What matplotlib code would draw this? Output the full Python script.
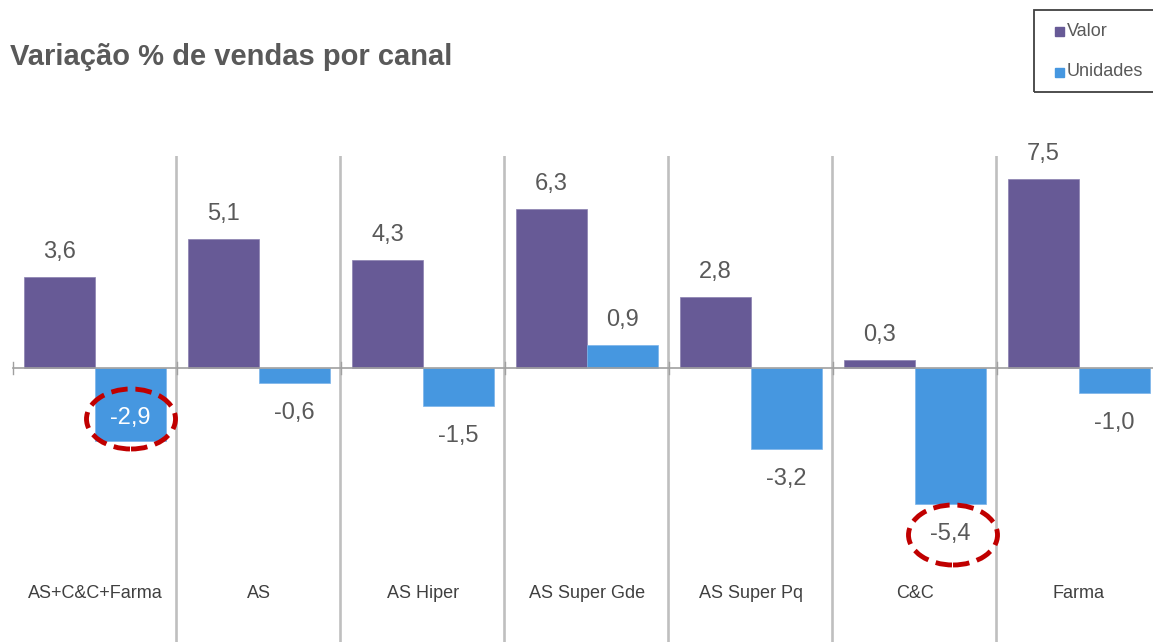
import matplotlib
matplotlib.use("Agg")
import matplotlib.pyplot as plt
from matplotlib.patches import Ellipse, Rectangle
import numpy as np

plt.rcParams['font.family'] = ['Liberation Sans', 'DejaVu Sans']

categories = ["AS+C&C+Farma", "AS", "AS Hiper", "AS Super Gde", "AS Super Pq", "C&C", "Farma"]
valor = [3.6, 5.1, 4.3, 6.3, 2.8, 0.3, 7.5]
unidades = [-2.9, -0.6, -1.5, 0.9, -3.2, -5.4, -1.0]
series_names = ["Valor", "Unidades"]

C_VALOR = "#675A96"
C_UNID = "#4697E0"
TXT = "#595959"

W, H = 1153, 642
fig = plt.figure(figsize=(W / 100, H / 100), dpi=100)
ax = fig.add_axes([13 / W, 0, 1148 / W, (642 - 156) / H])
ppu = 25.2
ax.set_xlim(-0.5, 6.5)
ax.set_ylim(-(642 - 368) / ppu, (368 - 156) / ppu)
ax.axis('off')

x = np.arange(len(categories))
bw = 71 / 164
ax.bar(x - bw / 2, valor, bw, color=C_VALOR, edgecolor="#8a80b0", linewidth=0.5, zorder=3)
ax.bar(x + bw / 2, unidades, bw, color=C_UNID, edgecolor="#7ab4ea", linewidth=0.5, zorder=3)

# separators
for i in range(len(categories) - 1):
    ax.axvline(i + 0.5 - 1.5 / 164, color="#BFBFBF", lw=1.9, zorder=1)

# zero line with ticks
ax.plot([-0.5, 6.6], [0, 0], color="#A0A0A0", lw=1.2, zorder=4, clip_on=False)
for k in range(len(categories) + 1):
    ax.plot([-0.5 + k, -0.5 + k], [-0.22, 0.22], color="#A0A0A0", lw=1.0, zorder=4, clip_on=False)

def fmt(v):
    return f"{v:.1f}".replace(".", ",")

for i, (v, u) in enumerate(zip(valor, unidades)):
    for xv, val, name in [(i - bw / 2, v, "Valor"), (i + bw / 2, u, "Unidades")]:
        if (i, name) == (0, "Unidades"):
            ax.annotate(fmt(val), (xv, val), xytext=(0, 23 * 0.72), textcoords='offset points',
                        ha='center', va='center', fontsize=17, color='white', zorder=6)
        elif val >= 0:
            ax.annotate(fmt(val), (xv, val), xytext=(0, 25 * 0.72), textcoords='offset points',
                        ha='center', va='center', fontsize=17, color=TXT, zorder=6)
        else:
            ax.annotate(fmt(val), (xv, val), xytext=(0, -30 * 0.72), textcoords='offset points',
                        ha='center', va='center', fontsize=17, color=TXT, zorder=6)

for i, c in enumerate(categories):
    ax.text(i, (368 - 593) / ppu, c, ha='center', va='center', fontsize=13, color="#404040")

# highlight ellipses
for (cx, cy) in [(131, 419), (953, 535)]:
    e = Ellipse(((cx - 13) / 164 - 0.5, (368 - cy) / ppu), 89 / 164, 60 / ppu,
                fill=False, edgecolor="#C00000", lw=3.5, linestyle=(0, (3.4, 1.6)),
                zorder=7, clip_on=False)
    ax.add_patch(e)

# title
fig.text(10 / W, 1 - 57 / H, "Variação % de vendas por canal", fontsize=21, fontweight='bold',
         color=TXT, ha='left', va='center')

# legend box
fig.patches.append(Rectangle((1034 / W, 1 - 92 / H), 130 / W, 82 / H, transform=fig.transFigure,
                             fill=False, edgecolor="#404040", lw=1.3))
for name, col, yy in [("Valor", C_VALOR, 31), ("Unidades", C_UNID, 72)]:
    fig.patches.append(Rectangle((1055 / W, 1 - (yy + 4.5) / H), 9 / W, 9 / H,
                                 transform=fig.transFigure, color=col))
    fig.text(1067 / W, 1 - yy / H, name, fontsize=13, color=TXT, ha='left', va='center')

fig.savefig("out.png", dpi=100)
